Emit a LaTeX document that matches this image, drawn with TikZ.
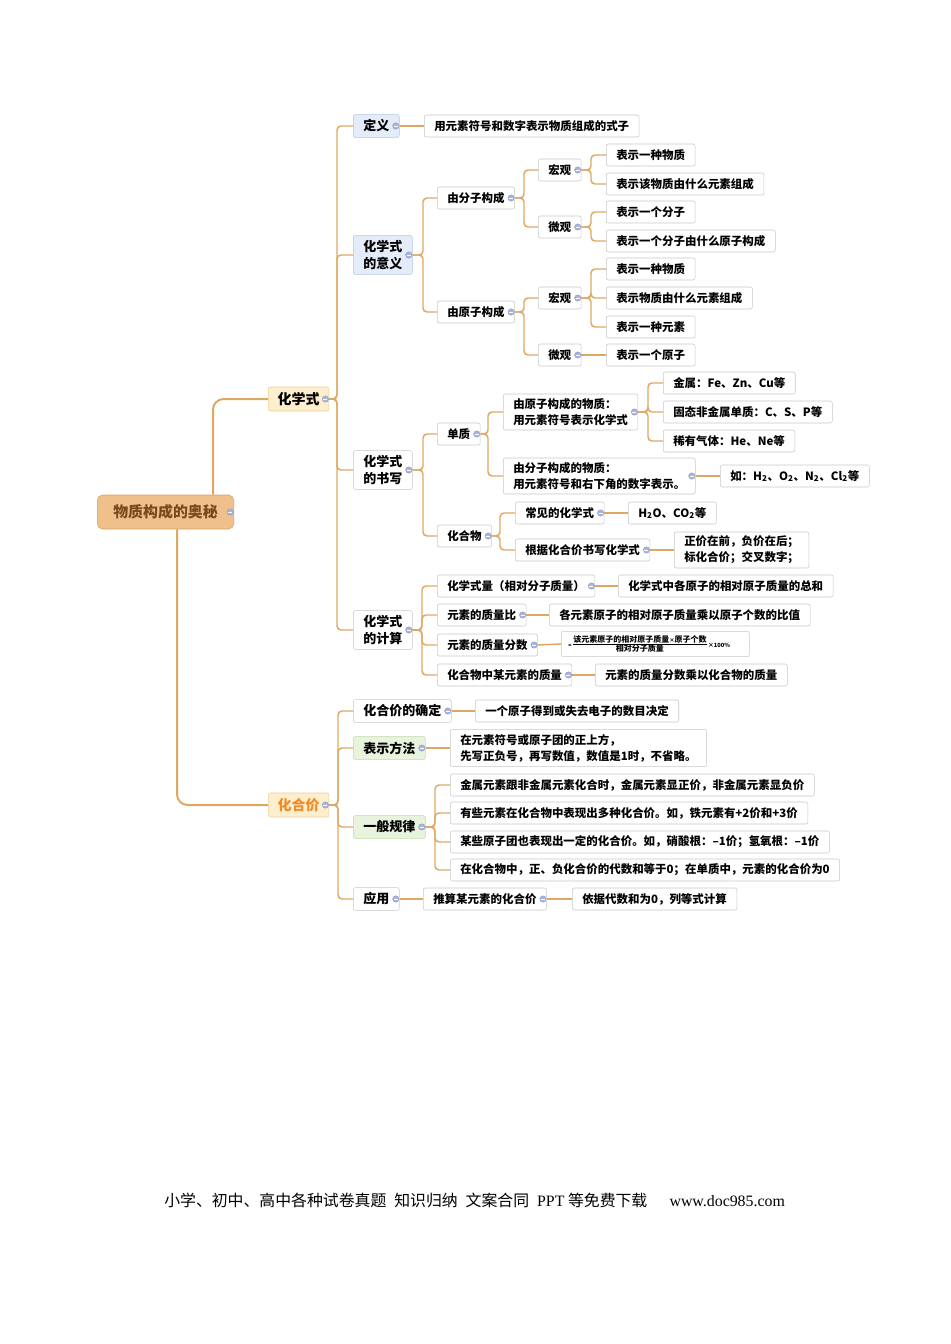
\documentclass[tikz,border=0pt]{standalone}
\usepackage{fontspec}
\setmainfont{Noto Sans CJK SC}
\newfontfamily\lat{Liberation Serif}
\usepackage{tikz}
\usetikzlibrary{calc}
\definecolor{lk}{RGB}{222,168,98}
\definecolor{rootf}{RGB}{240,192,138}
\definecolor{rootd}{RGB}{214,160,100}
\definecolor{roott}{RGB}{122,74,30}
\definecolor{yelf}{RGB}{253,238,206}
\definecolor{yeld}{RGB}{238,208,150}
\definecolor{bluf}{RGB}{228,236,250}
\definecolor{blud}{RGB}{176,196,232}
\definecolor{grnf}{RGB}{232,243,222}
\definecolor{grnd}{RGB}{190,218,166}
\definecolor{gryd}{RGB}{200,200,200}
\definecolor{orgt}{RGB}{240,140,40}
\definecolor{dotf}{RGB}{168,180,220}
\definecolor{dotl}{RGB}{140,154,200}

\begin{document}
\begin{tikzpicture}[x=0.75pt, y=-0.75pt]
\tikzstyle{b}=[draw=gryd, fill=white, rounded corners=1.5pt, anchor=west, inner xsep=7.5pt, inner ysep=0pt, minimum height=16.5pt, align=left, font=\bfseries\fontsize{8.6}{12}\selectfont]
\tikzstyle{b2}=[b, minimum height=17pt, font=\bfseries\fontsize{9.75}{12.8}\selectfont]
\tikzstyle{blu}=[b2, fill=bluf, draw=blud]
\tikzstyle{grn}=[b2, fill=grnf, draw=grnd]
\tikzstyle{lvl}=[b, fill=yelf, draw=yeld, minimum height=18pt, inner xsep=7pt, font=\bfseries\fontsize{10.5}{13}\selectfont]
\tikzstyle{l}=[draw=lk, line width=1.1pt, rounded corners=3pt]
\useasboundingbox (0,0) rectangle (950,1344);

\node[b, fill=rootf, draw=rootd, text=roott, minimum height=25.5pt, inner xsep=12pt, rounded corners=4pt, font=\bfseries\fontsize{11.2}{13}\selectfont] (root) at (97,512) {物质构成的奥秘};
\node[lvl] (hx) at (268,399) {化学式};
\node[lvl, text=orgt] (hj) at (268,805) {化合价};

\node[blu] (dy) at (353,126) {定义};
\node[blu, minimum height=29pt] (yy) at (353,255) {化学式\\的意义};
\node[b2, minimum height=29pt] (sx) at (353,470) {化学式\\的书写};
\node[b2, minimum height=29pt] (js) at (353,630) {化学式\\的计算};

\node[b] (dy1) at (424,126) {用元素符号和数字表示物质组成的式子};
\node[b] (fz) at (437,198) {由分子构成};
\node[b] (yz) at (437,312) {由原子构成};
\node[b] (fzh) at (538,170) {宏观};
\node[b] (fzw) at (538,227) {微观};
\node[b] (yzh) at (538,298) {宏观};
\node[b] (yzw) at (538,355) {微观};
\node[b] (fzh1) at (606,155) {表示一种物质};
\node[b] (fzh2) at (606,184) {表示该物质由什么元素组成};
\node[b] (fzw1) at (606,212) {表示一个分子};
\node[b] (fzw2) at (606,241) {表示一个分子由什么原子构成};
\node[b] (yzh1) at (606,269) {表示一种物质};
\node[b] (yzh2) at (606,298) {表示物质由什么元素组成};
\node[b] (yzh3) at (606,327) {表示一种元素};
\node[b] (yzw1) at (606,355) {表示一个原子};

\node[b] (dz) at (437,434) {单质};
\node[b] (hhw) at (437,536) {化合物};
\node[b, minimum height=27pt] (dz1) at (503,412) {由原子构成的物质：\\用元素符号表示化学式};
\node[b, minimum height=27pt] (dz2) at (503,476) {由分子构成的物质：\\用元素符号和右下角的数字表示。};
\node[b] (dz11) at (663,383) {金属：Fe、Zn、Cu等};
\node[b] (dz12) at (663,412) {固态非金属单质：C、S、P等};
\node[b] (dz13) at (663,441) {稀有气体：He、Ne等};
\node[b] (dz21) at (720,476) {如：H\textsubscript{2}、O\textsubscript{2}、N\textsubscript{2}、Cl\textsubscript{2}等};
\node[b] (hhw1) at (515,513) {常见的化学式};
\node[b] (hhw2) at (515,550) {根据化合价书写化学式};
\node[b] (hhw11) at (628,513) {H\textsubscript{2}O、CO\textsubscript{2}等};
\node[b, minimum height=27pt] (hhw21) at (674,550) {正价在前，负价在后；\\标化合价；交叉数字；};

\node[b] (js1) at (437,586) {化学式量（相对分子质量）};
\node[b] (js2) at (437,615) {元素的质量比};
\node[b] (js3) at (437,645) {元素的质量分数};
\node[b] (js4) at (437,675) {化合物中某元素的质量};
\node[b] (js11) at (618,586) {化学式中各原子的相对原子质量的总和};
\node[b] (js21) at (549,615) {各元素原子的相对原子质量乘以原子个数的比值};
\node[b, minimum height=19pt, minimum width=141pt, inner xsep=1pt] (js31) at (561,644) {{\fontsize{4}{5}\selectfont =}$\frac{\mbox{\fontsize{6}{7}\selectfont 该元素原子的相对原子质量{\fontsize{4}{5}\selectfont ×}原子个数}}{\mbox{\fontsize{6}{7}\selectfont 相对分子质量}}${\fontsize{4.3}{5}\selectfont ×100\%}\hspace{9pt}};
\node[b] (js41) at (595,675) {元素的质量分数乘以化合物的质量};

\node[b2] (qd) at (353,711) {化合价的确定};
\node[grn] (bs) at (353,748) {表示方法};
\node[grn] (gl) at (353,827) {一般规律};
\node[b2] (yong) at (353,899) {应用};
\node[b] (qd1) at (475,711) {一个原子得到或失去电子的数目决定};
\node[b, minimum height=28pt] (bs1) at (450,748) {在元素符号或原子团的正上方，\\先写正负号，再写数值，数值是1时，不省略。};
\node[b] (gl1) at (450,785) {金属元素跟非金属元素化合时，金属元素显正价，非金属元素显负价};
\node[b] (gl2) at (450,813) {有些元素在化合物中表现出多种化合价。如，铁元素有+2价和+3价};
\node[b] (gl3) at (450,842) {某些原子团也表现出一定的化合价。如，硝酸根：–1价；氢氧根：–1价};
\node[b] (gl4) at (450,870) {在化合物中，正、负化合价的代数和等于0；在单质中，元素的化合价为0};
\node[b] (yong1) at (423,899) {推算某元素的化合价};
\node[b] (yong2) at (572,899) {依据代数和为0，列等式计算};

\coordinate (jhx) at (337,399);
\coordinate (jyy) at (423,255);
\coordinate (jfz) at (524,198);
\coordinate (jfzh) at (591,170);
\coordinate (jfzw) at (591,227);
\coordinate (jyz) at (524,312);
\coordinate (jyzh) at (591,298);
\coordinate (jsx) at (423,470);
\coordinate (jdz) at (488,434);
\coordinate (jdz1) at (648,412);
\coordinate (jhhw) at (500,536);
\coordinate (jjs) at (422,630);
\coordinate (jhj) at (338,805);
\coordinate (jgl) at (435,827);

\draw[l, line width=1.5pt, rounded corners=8pt] ([xshift=87pt]root.north west) |- (hx.west);
\draw[l, line width=1.5pt, rounded corners=8pt] ([xshift=60pt]root.south west) |- (hj.west);

\foreach \p/\j/\cs in {hx/jhx/{dy,yy,sx,js}, yy/jyy/{fz,yz}, fz/jfz/{fzh,fzw}, fzh/jfzh/{fzh1,fzh2}, fzw/jfzw/{fzw1,fzw2}, yz/jyz/{yzh,yzw}, yzh/jyzh/{yzh1,yzh2,yzh3}, sx/jsx/{dz,hhw}, dz/jdz/{dz1,dz2}, dz1/jdz1/{dz11,dz12,dz13}, hhw/jhhw/{hhw1,hhw2}, js/jjs/{js1,js2,js3,js4}, hj/jhj/{qd,bs,gl,yong}, gl/jgl/{gl1,gl2,gl3,gl4}}
  \foreach \c in \cs
    \draw[l] (\p.east) -- (\j) |- (\c.west);
\foreach \a/\z in {dy/dy1, yzw/yzw1, dz2/dz21, hhw1/hhw11, hhw2/hhw21, js1/js11, js2/js21, js3/js31, js4/js41, qd/qd1, bs/bs1, yong/yong1, yong1/yong2}
  \draw[l] (\a.east) -- (\z.west);

\foreach \n in {root,hx,hj,dy,yy,sx,js,fz,yz,fzh,fzw,yzh,yzw,dz,hhw,dz1,dz2,hhw1,hhw2,js1,js2,js3,js4,qd,bs,gl,yong,yong1} {
  \filldraw[fill=dotf, draw=dotl, line width=0.3pt] ([xshift=-2.8pt]\n.east) circle (2.4pt);
  \draw[white, line width=0.7pt] ([xshift=-4.3pt]\n.east) -- ([xshift=-1.3pt]\n.east);
}

\node[anchor=west, inner sep=0pt, font=\fontsize{11.9}{14}\selectfont] (ft) at (164,1200) {小学、初中、高中各种试卷真题\enspace 知识归纳\enspace 文案合同\enspace{\lat PPT} 等免费下载\hspace{1.4em}{\lat www.doc985.com}};
\end{tikzpicture}
\end{document}
